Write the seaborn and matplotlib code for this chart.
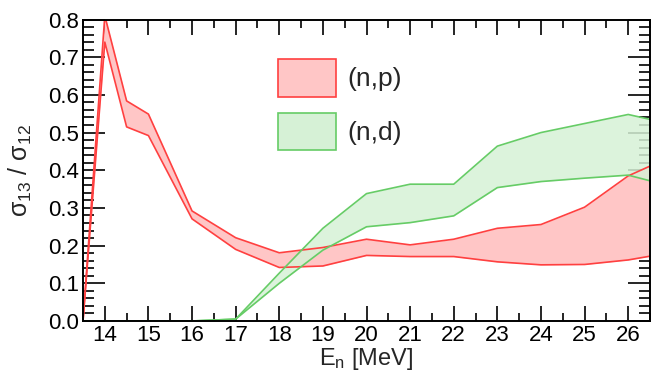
import matplotlib
matplotlib.use("Agg")
import matplotlib.pyplot as plt
import seaborn as sns
import numpy as np
import pandas as pd
from matplotlib.patches import Patch
from matplotlib.ticker import MultipleLocator, FormatStrFormatter

# Neutron energy grid [MeV]
energy = [13.5, 14.0, 14.5, 15.0, 16.0, 17.0, 18.0, 19.0, 20.0, 21.0, 22.0, 23.0, 24.0, 25.0, 26.0, 26.5]

# (n,p) ratio band: lower / upper bounds
np_low = [0.0, 0.74, 0.515, 0.492, 0.271, 0.190, 0.142, 0.146, 0.174, 0.171, 0.171, 0.157, 0.149, 0.150, 0.162, 0.172]
np_high = [0.0, 0.81, 0.584, 0.549, 0.292, 0.221, 0.181, 0.195, 0.217, 0.202, 0.217, 0.246, 0.256, 0.302, 0.385, 0.411]

# (n,d) ratio band: lower / upper bounds
nd_low = [0.0, 0.0, 0.0, 0.0, 0.0, 0.005, 0.100, 0.188, 0.250, 0.261, 0.279, 0.354, 0.370, 0.379, 0.387, 0.372]
nd_high = [0.0, 0.0, 0.0, 0.0, 0.0, 0.005, 0.127, 0.246, 0.338, 0.363, 0.363, 0.464, 0.500, 0.524, 0.548, 0.535]

labels = ["(n,p)", "(n,d)"]

red_line, red_fill = "#ff4040", "#ffc6c6"
green_line, green_fill = "#66cc66", "#d6f1d6"

sns.set_theme(style="ticks")
plt.rcParams["font.family"] = ["Liberation Sans", "DejaVu Sans"]
plt.rcParams["mathtext.fontset"] = "custom"
plt.rcParams["mathtext.rm"] = "Liberation Sans"
plt.rcParams["mathtext.it"] = "Liberation Sans:italic"

fig = plt.figure(figsize=(6.57, 3.75), dpi=100)
ax = fig.add_axes([83 / 657, (375 - 321) / 375, (650 - 83) / 657, (321 - 19.5) / 375])

df = pd.DataFrame({"E": energy, "np_low": np_low, "np_high": np_high,
                   "nd_low": nd_low, "nd_high": nd_high})

ax.fill_between(df["E"], df["np_low"], df["np_high"], color=red_fill, lw=0, zorder=1)
ax.fill_between(df["E"], df["nd_low"], df["nd_high"], color=green_fill, lw=0, alpha=0.85, zorder=1)
for col, c in [("np_low", red_line), ("np_high", red_line), ("nd_low", green_line), ("nd_high", green_line)]:
    sns.lineplot(data=df, x="E", y=col, ax=ax, color=c, lw=1.2, zorder=2, legend=False)

ax.set_xlim(13.5, 26.5)
ax.set_ylim(0.0, 0.8)
ax.xaxis.set_major_locator(MultipleLocator(1))
ax.xaxis.set_minor_locator(MultipleLocator(0.5))
ax.yaxis.set_major_locator(MultipleLocator(0.1))
ax.yaxis.set_minor_locator(MultipleLocator(0.02))
ax.yaxis.set_major_formatter(FormatStrFormatter("%.1f"))

ax.tick_params(axis="both", which="both", direction="in", top=True, right=True,
               colors="black", labelsize=16, width=1.2)
ax.tick_params(axis="y", which="major", length=16, pad=3)
ax.tick_params(axis="y", which="minor", length=8)
ax.tick_params(axis="x", which="major", length=11, pad=3)
ax.tick_params(axis="x", which="minor", length=5.5)
for s in ax.spines.values():
    s.set_linewidth(1.4)
    s.set_color("black")

ax.set_xlabel(r"E$_{\mathrm{n}}$ [MeV]", fontsize=17, labelpad=0)
ax.set_ylabel(r"σ$_{\mathrm{13}}$ / σ$_{\mathrm{12}}$", fontsize=18)
ax.yaxis.set_label_coords(-0.086, 0.5)

handles = [Patch(facecolor=red_fill, edgecolor=red_line, lw=1.2),
           Patch(facecolor=green_fill, edgecolor=green_line, lw=1.2)]
ax.legend(handles, labels, loc="upper left", bbox_to_anchor=(0.344, 0.868),
          frameon=False, fontsize=19, handlelength=2.2, handleheight=1.8,
          labelspacing=0.62, borderpad=0, borderaxespad=0, handletextpad=0.42)

fig.savefig("out.png", dpi=100)
